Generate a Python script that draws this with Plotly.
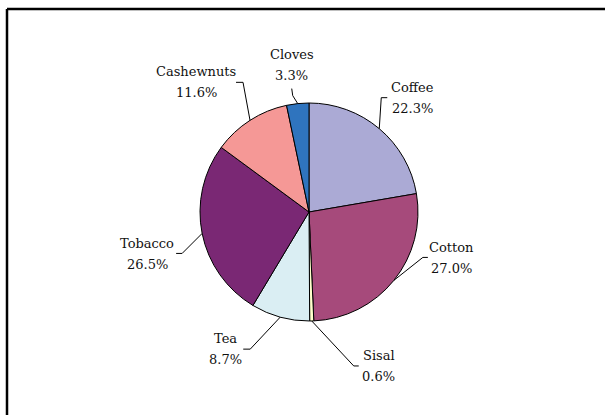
import math
import plotly.graph_objects as go

# Share of export earnings by crop
crops = ["Coffee", "Cotton", "Sisal", "Tea", "Tobacco", "Cashewnuts", "Cloves"]
shares = [22.3, 27.0, 0.6, 8.7, 26.5, 11.6, 3.3]
colors = ["#ABAAD5", "#A64A7B", "#FFFFCC", "#DAEEF3", "#7A2874", "#F59896", "#2F74BE"]

W, H = 605, 415
CX, CY, R = 309, 212, 109  # pie centre and radius in pixels

# Leader-line layout per label (pixels): elbow offset from the slice edge,
# tick end offset from the elbow, and text centre offset from the elbow.
leader = {
    "Coffee":     dict(elbow=(2, -31),  tick=(6, 0),   text=(31, 0.5)),
    "Cotton":     dict(elbow=(29, -23), tick=(5, 0),   text=(29, 1)),
    "Sisal":      dict(elbow=(42, 45),  tick=(5, 0),   text=(25, 0)),
    "Tea":        dict(elbow=(-30, 32), tick=(-7, 0),  text=(-25, -0.5)),
    "Tobacco":    dict(elbow=(-20, 20), tick=(-6, 0),  text=(-35, 0.5)),
    "Cashewnuts": dict(elbow=(-7, -38), tick=(-7, 0),  text=(-47, 0)),
    "Cloves":     dict(elbow=(-5, -8),  tick=(-1, -7), text=(-1, -31)),
}

FONT = dict(family="DejaVu Serif", size=13, color="#111111")
LINE_GAP = 10.5


def px(x, y):
    """Pixel position -> paper coordinates."""
    return x / W, 1 - y / H


fig = go.Figure(go.Pie(
    labels=crops,
    values=shares,
    sort=False,
    direction="clockwise",
    marker=dict(colors=colors, line=dict(color="#000000", width=1)),
    textinfo="none",
    hoverinfo="label+percent",
    showlegend=False,
    domain=dict(x=[(CX - R) / W, (CX + R) / W], y=[1 - (CY + R) / H, 1 - (CY - R) / H]),
))

shapes = []
annotations = []
total = sum(shares)
cum = 0.0
for name, val in zip(crops, shares):
    mid = (cum + val / 2) / total * 2 * math.pi
    cum += val
    ex = CX + R * math.sin(mid)
    ey = CY - R * math.cos(mid)
    cfg = leader[name]
    bx, by = ex + cfg["elbow"][0], ey + cfg["elbow"][1]
    tx, ty = bx + cfg["tick"][0], by + cfg["tick"][1]
    lx, ly = bx + cfg["text"][0], by + cfg["text"][1]

    path_pts = [px(ex, ey), px(bx, by), px(tx, ty)]
    path = "M " + " L ".join(f"{x:.5f},{y:.5f}" for x, y in path_pts)
    shapes.append(dict(type="path", xref="paper", yref="paper", path=path,
                       line=dict(color="#000000", width=1)))

    for text, dy in ((name, -LINE_GAP), (f"{val:.1f}%", LINE_GAP)):
        ax, ay = px(lx, ly + dy)
        annotations.append(dict(x=ax, y=ay, xref="paper", yref="paper", text=text,
                                showarrow=False, xanchor="center", yanchor="middle",
                                font=FONT))

# Chart frame (left and top edges)
fx, fy = px(7, 9)
shapes.append(dict(type="line", xref="paper", yref="paper", x0=fx, y0=-0.05, x1=fx, y1=fy,
                   line=dict(color="#000000", width=2.5)))
shapes.append(dict(type="line", xref="paper", yref="paper", x0=fx, y0=fy, x1=1.05, y1=fy,
                   line=dict(color="#000000", width=2.5)))

fig.update_layout(
    width=W, height=H,
    margin=dict(l=0, r=0, t=0, b=0),
    paper_bgcolor="#FFFFFF",
    plot_bgcolor="#FFFFFF",
    shapes=shapes,
    annotations=annotations,
)

fig.write_html("out.html")
